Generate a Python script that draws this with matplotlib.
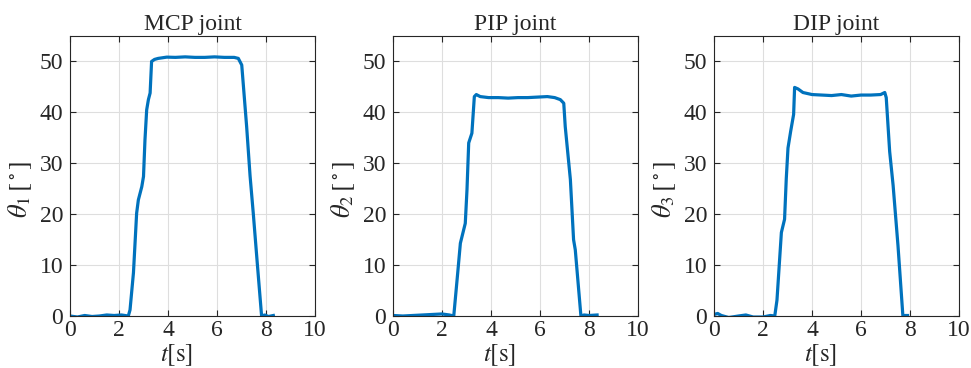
import matplotlib
matplotlib.use("Agg")
import matplotlib.pyplot as plt

# joint angle traces (time in s, angle in deg)
t_mcp = [0, 0.3, 0.6, 0.9, 1.2, 1.5, 1.8, 2.1, 2.38, 2.45, 2.59, 2.72, 2.79, 2.93,
         3.0, 3.06, 3.13, 3.2, 3.27, 3.33, 3.45, 3.6, 3.95, 4.3, 4.7, 5.1, 5.5,
         5.9, 6.3, 6.7, 6.87, 7.01, 7.21, 7.35, 7.48, 7.65, 7.82, 7.95, 8.1, 8.3]
th_mcp = [0, -0.2, 0.1, -0.1, 0, 0.2, 0.1, 0.2, 0, 1.2, 8.5, 20.2, 22.8, 25.4,
          27.4, 34.6, 40.5, 42.5, 43.8, 50.0, 50.4, 50.6, 50.85, 50.8, 50.9, 50.8,
          50.8, 50.9, 50.8, 50.8, 50.6, 49.3, 37.2, 27.5, 20.2, 10.0, 0, 0.2, -0.1, 0.1]

t_pip = [0, 0.4, 0.8, 1.2, 1.6, 2.0, 2.3, 2.48, 2.64, 2.75, 2.95, 3.02, 3.09, 3.22,
         3.32, 3.4, 3.56, 3.9, 4.3, 4.7, 5.1, 5.5, 5.9, 6.3, 6.6, 6.83, 6.97, 7.03,
         7.24, 7.37, 7.44, 7.67, 7.8, 8.0, 8.33]
th_pip = [0.1, 0, 0.1, 0.2, 0.3, 0.4, 0.2, 0, 8.4, 14.3, 18.2, 24.8, 34.0, 35.9,
          43.1, 43.5, 43.1, 42.9, 42.9, 42.8, 42.9, 42.9, 43.0, 43.1, 42.9, 42.5,
          41.8, 37.2, 26.8, 15.0, 13.0, 0, 0.2, 0.1, 0.2]

t_dip = [0, 0.15, 0.3, 0.6, 1.0, 1.3, 1.6, 2.0, 2.3, 2.48, 2.57, 2.75, 2.88, 2.95,
         3.02, 3.13, 3.25, 3.29, 3.43, 3.63, 4.0, 4.4, 4.8, 5.2, 5.6, 6.0, 6.4,
         6.8, 6.97, 7.03, 7.17, 7.31, 7.51, 7.71, 7.8, 7.9]
th_dip = [0.3, 0.5, 0.1, -0.3, 0, 0.2, -0.2, -0.2, 0.1, 0, 3.1, 16.4, 19.0, 27.0,
          33.0, 36.3, 39.6, 44.9, 44.6, 43.9, 43.5, 43.4, 43.3, 43.5, 43.2, 43.4,
          43.4, 43.5, 43.9, 42.9, 32.3, 25.7, 13.8, 0, 0.1, 0.1]

titles = ["MCP joint", "PIP joint", "DIP joint"]
ylabels = [r"$\theta_1\,[^\circ]$", r"$\theta_2\,[^\circ]$", r"$\theta_3\,[^\circ]$"]
series = [(t_mcp, th_mcp), (t_pip, th_pip), (t_dip, th_dip)]

plt.rcParams["font.family"] = ["Liberation Serif", "DejaVu Serif"]
plt.rcParams["mathtext.fontset"] = "stix"

fig = plt.figure(figsize=(9.71, 3.68), dpi=100)
lefts = [70 / 971, 393 / 971, 714 / 971]
for left, title, ylab, (t, th) in zip(lefts, titles, ylabels, series):
    ax = fig.add_axes([left, 52 / 368, 245 / 971, 280 / 368])
    ax.plot(t, th, color="#0072BD", linewidth=2.3)
    ax.set_xlim(0, 10)
    ax.set_ylim(0, 55)
    ax.set_xticks([0, 2, 4, 6, 8, 10])
    ax.set_yticks([0, 10, 20, 30, 40, 50])
    ax.grid(True, color="#dedede", linewidth=0.8)
    ax.set_axisbelow(True)
    for s in ax.spines.values():
        s.set_color("#262626")
        s.set_linewidth(0.8)
    ax.tick_params(direction="in", length=4, width=0.8, top=True, right=True,
                   labelsize=17, colors="#262626")
    ax.tick_params(axis="x", pad=3)
    ax.tick_params(axis="y", pad=5)
    ax.set_title(title, fontsize=17, pad=4, color="#262626")
    ax.set_xlabel(r"$t[\mathrm{s}]$", fontsize=18, color="#262626")
    ax.set_ylabel(ylab, fontsize=19, color="#262626")
    ax.xaxis.set_label_coords(0.435, -0.095)
    ax.yaxis.set_label_coords(-0.145, 0.45)

fig.savefig("out.png", dpi=100)
